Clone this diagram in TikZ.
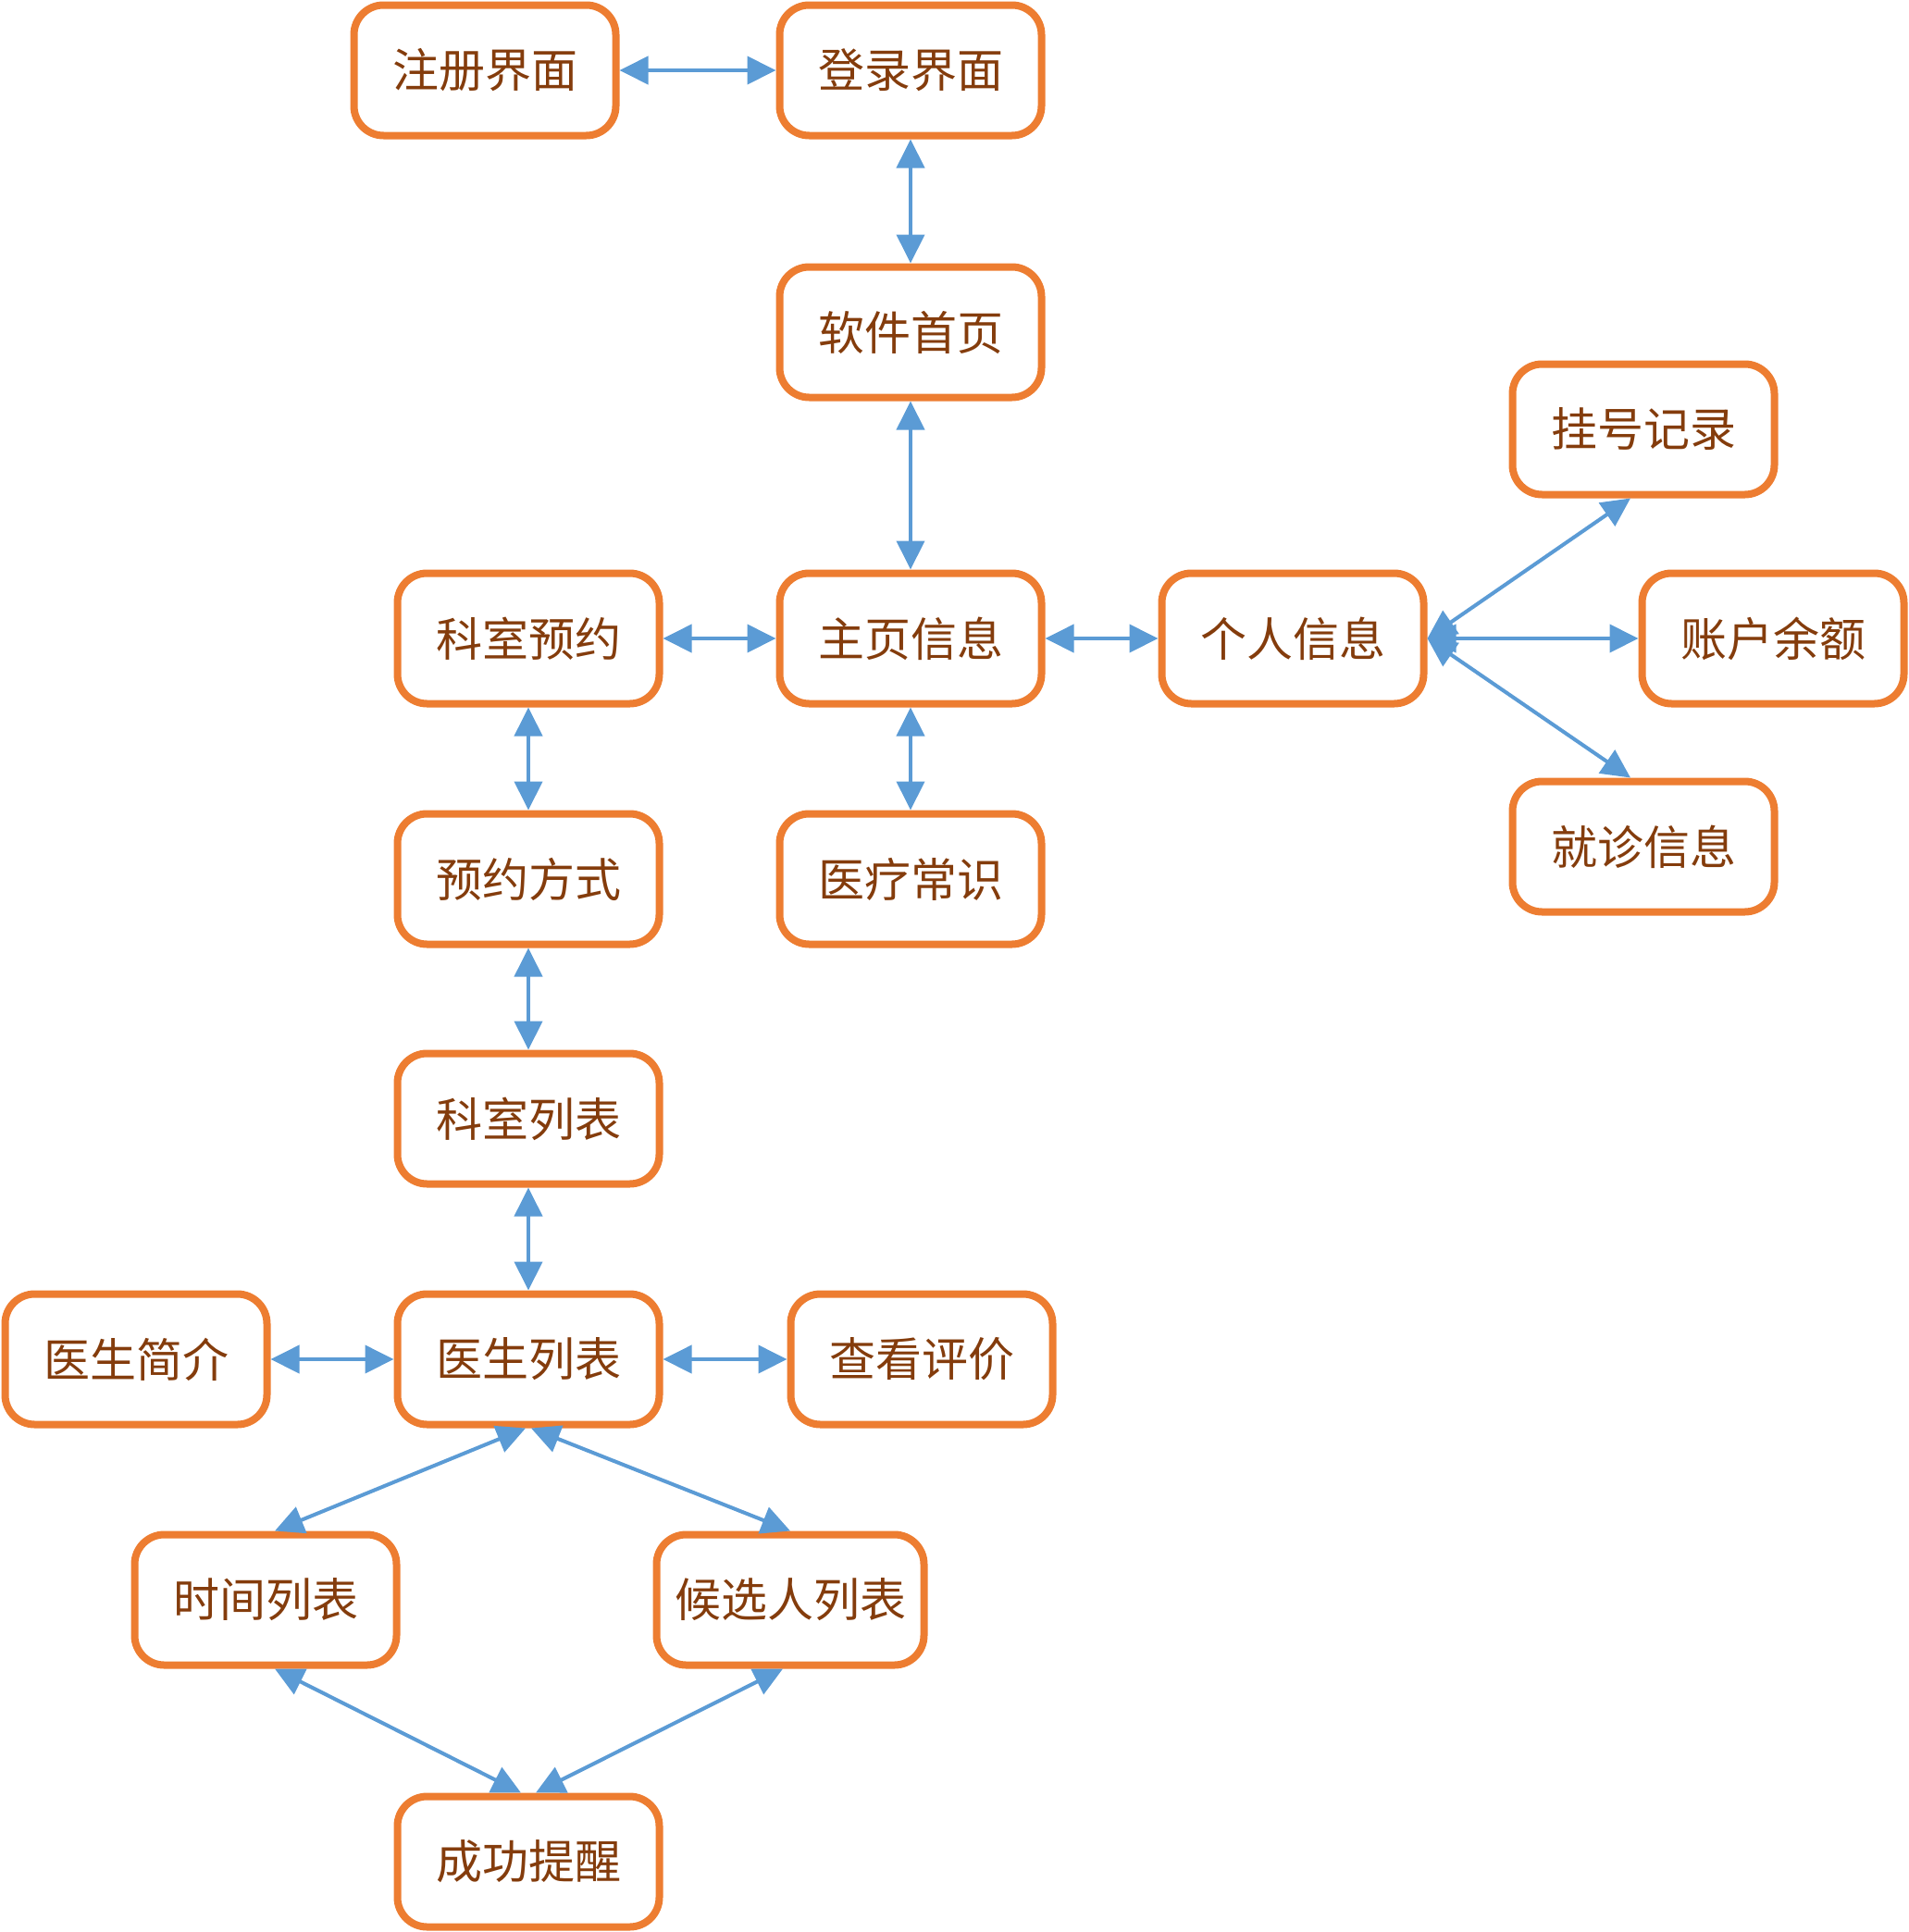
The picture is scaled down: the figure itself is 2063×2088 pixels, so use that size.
\documentclass[tikz,border=0pt]{standalone}
\usepackage{fontspec}
\setmainfont{Noto Sans CJK SC}
\usetikzlibrary{arrows.meta}
\definecolor{boxorange}{HTML}{ED7D31}
\definecolor{linkblue}{HTML}{5B9BD5}
\definecolor{textbrown}{HTML}{843C0C}
\begin{document}
\begin{tikzpicture}[x=1pt,y=-1pt,
  screen/.style={draw=boxorange, line width=8pt, rounded corners=32pt, fill=white,
    minimum width=283pt, minimum height=141pt, inner sep=0pt,
    text=textbrown, font=\fontsize{50}{60}\selectfont},
  link/.style={draw=linkblue, line width=4pt,
    {Triangle[length=31pt,width=30pt]}-{Triangle[length=31pt,width=30pt]}}]
\useasboundingbox (0,0) rectangle (2063,2088);

% screens
\node[screen] (zc) at (524,76)   {注册界面};
\node[screen] (dl) at (984,76)   {登录界面};
\node[screen] (rj) at (984,359)  {软件首页};
\node[screen] (ks) at (571,690)  {科室预约};
\node[screen] (zy) at (984,690)  {主页信息};
\node[screen] (gr) at (1397,690) {个人信息};
\node[screen] (gh) at (1776,464) {挂号记录};
\node[screen] (zh) at (1916,690) {账户余额};
\node[screen] (jz) at (1776,915) {就诊信息};
\node[screen] (yf) at (571,950)  {预约方式};
\node[screen] (yl) at (984,950)  {医疗常识};
\node[screen] (kl) at (571,1209) {科室列表};
\node[screen] (jj) at (147,1469) {医生简介};
\node[screen] (ys) at (571,1469) {医生列表};
\node[screen] (ck) at (996,1469) {查看评价};
\node[screen] (sj) at (287,1729) {时间列表};
\node[screen, minimum width=289pt] (hx) at (854,1729) {候选人列表};
\node[screen] (cg) at (571,2012) {成功提醒};

% navigation links
\draw[link] (zc) -- (dl);
\draw[link] (dl) -- (rj);
\draw[link] (rj) -- (zy);
\draw[link] (ks) -- (zy);
\draw[link] (zy) -- (gr);
\draw[link] (gr.east) -- ([xshift=-14pt]gh.south);
\draw[link] (gr.east) -- (zh.west);
\draw[link] (gr.east) -- ([xshift=-14pt]jz.north);
\draw[link] (ks) -- (yf);
\draw[link] (zy) -- (yl);
\draw[link] (yf) -- (kl);
\draw[link] (kl) -- (ys);
\draw[link] (jj) -- (ys);
\draw[link] (ys) -- (ck);
\draw[link] ([xshift=-3pt]ys.south) -- ([xshift=10pt]sj.north);
\draw[link] ([xshift=3pt]ys.south) -- (hx.north);
\draw[link] ([xshift=10pt]sj.south) -- ([xshift=-8pt]cg.north);
\draw[link] ([xshift=-8pt]hx.south) -- ([xshift=8pt]cg.north);
\end{tikzpicture}
\end{document}
